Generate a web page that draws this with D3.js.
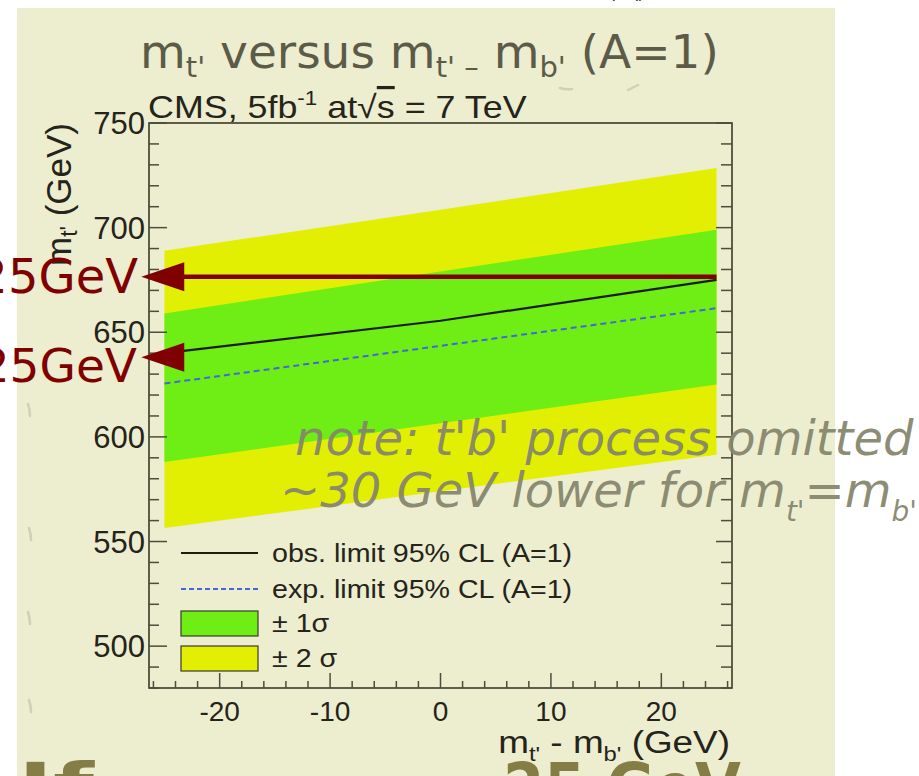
<!DOCTYPE html>
<html>
<head>
<meta charset="utf-8">
<script src="https://cdn.jsdelivr.net/npm/d3@7"></script>
<style>
  html, body { margin: 0; padding: 0; background: #ffffff; overflow: hidden; }
  svg { display: block; }
</style>
</head>
<body>
<svg id="chart" width="919" height="776"></svg>
<script>
// mass splitting m_t' - m_b' (GeV)
const massSplit = [-25, 0, 25];
// 95% CL limits on m_t' (GeV)
const obsLimit = [640, 655.5, 675];
const expLimit = [625.5, 643.5, 661.5];
// expected-limit uncertainty bands (GeV)
const sigma1Low = [588, 606.5, 625];
const sigma1High = [659, 679, 699];
const sigma2Low = [556.5, 574, 591.5];
const sigma2High = [689, 708.5, 728.5];
// axis ticks
const xTicks = [-20, -10, 0, 10, 20];
const yTicks = [500, 550, 600, 650, 700, 750];
// highlighted mass levels (GeV) with arrow tip / tail positions on the x axis
const arrowLevels = [676.5, 638];
const arrowTips = [-27.1, -27.1];
const arrowTails = [25, -24.6];
const arrowLabels = ["25GeV", "25GeV"];
// legend entries
const legendLabels = ["obs. limit 95% CL (A=1)", "exp. limit 95% CL (A=1)", "\u00b1 1\u03c3", "\u00b1 2 \u03c3"];

const svg = d3.select("#chart");
const C = {
  panel: "#ededcf", yellow: "#e2ef02", green: "#6eee14", red: "#800000",
  ink: "#24241a", tick: "#4d4d3c", title: "#5b5b48", note: "#86866d", blue: "#4466dd", big: "#857d46"
};
const rootFont = "'Liberation Sans', Arial, sans-serif";

const frame = { left: 149, top: 123, right: 732, bottom: 688 };
const x = d3.scaleLinear().domain([-26.4, 26.4]).range([frame.left, frame.right]);
const y = d3.scaleLinear().domain([480, 750]).range([frame.bottom, frame.top]);

// horizontally widened text anchored at (px, py)
function wideText(px, py, sx, anchor) {
  return svg.append("g").attr("transform", `translate(${px},${py}) scale(${sx},1)`)
    .append("text").attr("text-anchor", anchor || "start");
}

// slide background panel
svg.append("rect").attr("x", 17).attr("y", 8).attr("width", 818).attr("height", 800).attr("fill", C.panel);

// faint marks from the slide layer behind the plot
const smudge = svg.append("g").attr("fill", "none").attr("stroke", "#c9c9b2").attr("stroke-width", 2.5)
  .attr("stroke-linecap", "round").attr("opacity", 0.8);
[[28, 404], [29, 528], [28, 612], [29, 700]].forEach(([mx, my]) =>
  smudge.append("path").attr("d", `M${mx},${my} q2,6 2,12`));
smudge.append("path").attr("d", "M560,88 q6,2 12,1");
smudge.append("path").attr("d", "M628,90 q6,-3 10,-5");

// clipped caption above the slide
svg.append("text").attr("x", 612).attr("y", -2).attr("font-family", rootFont).attr("font-size", 16)
  .attr("fill", "#222").text("p,   q)");

// slide title
const title = svg.append("text").attr("x", 140).attr("y", 68)
  .attr("font-family", "'DejaVu Sans', sans-serif")
  .attr("font-size", 47).attr("fill", C.title);
title.append("tspan").text("m");
title.append("tspan").attr("font-size", 29).attr("dy", 9).text("t'");
title.append("tspan").attr("dy", -9).text(" versus m");
title.append("tspan").attr("font-size", 29).attr("dy", 9).text("t' \u2013");
title.append("tspan").attr("dy", -9).text(" m");
title.append("tspan").attr("font-size", 29).attr("dy", 9).text("b'");
title.append("tspan").attr("dy", -9).text(" (A=1)");

// uncertainty bands
const idx = massSplit.map((d, i) => i);
const band = (lo, hi) => d3.area()
  .x(i => x(massSplit[i]))
  .y0(i => y(lo[i]))
  .y1(i => y(hi[i]));
svg.append("path").datum(idx).attr("d", band(sigma2Low, sigma2High)).attr("fill", C.yellow);
svg.append("path").datum(idx).attr("d", band(sigma1Low, sigma1High)).attr("fill", C.green);

// limit curves
const curve = vals => d3.line().x(i => x(massSplit[i])).y(i => y(vals[i]));
svg.append("path").datum(idx).attr("d", curve(expLimit)).attr("fill", "none")
  .attr("stroke", C.blue).attr("stroke-width", 2).attr("stroke-dasharray", "6,4");
svg.append("path").datum(idx).attr("d", curve(obsLimit)).attr("fill", "none")
  .attr("stroke", "#1c1c10").attr("stroke-width", 2.2);

// frame
svg.append("rect").attr("x", frame.left).attr("y", frame.top)
  .attr("width", frame.right - frame.left).attr("height", frame.bottom - frame.top)
  .attr("fill", "none").attr("stroke", "#3a3a2a").attr("stroke-width", 1.6);

// y ticks (left and right, inward)
d3.range(480, 751, 10).forEach(v => {
  const major = v % 50 === 0;
  svg.append("line").attr("x1", frame.left).attr("x2", frame.left + (major ? 18 : 10))
    .attr("y1", y(v)).attr("y2", y(v)).attr("stroke", C.tick).attr("stroke-width", 1.5);
  svg.append("line").attr("x1", frame.right).attr("x2", frame.right - (major ? 16 : 11))
    .attr("y1", y(v)).attr("y2", y(v)).attr("stroke", C.tick).attr("stroke-width", 1.5);
});
// x ticks (bottom, inward)
d3.range(-26, 27, 2).forEach(v => {
  const major = v % 10 === 0;
  svg.append("line").attr("x1", x(v)).attr("x2", x(v))
    .attr("y1", frame.bottom).attr("y2", frame.bottom - (major ? 15 : 7))
    .attr("stroke", C.tick).attr("stroke-width", 1.5);
});

// tick labels
svg.append("g").selectAll("text").data(yTicks).join("text")
  .attr("x", 145).attr("y", d => y(d) + 11).attr("text-anchor", "end")
  .attr("font-family", rootFont).attr("font-size", 31).attr("fill", C.ink).text(d => d);
svg.append("g").selectAll("text").data(xTicks).join("text")
  .attr("x", d => x(d)).attr("y", 721).attr("text-anchor", "middle")
  .attr("font-family", rootFont).attr("font-size", 28).attr("fill", C.ink).text(d => d);

// axis titles
const xt = wideText(730, 753, 1.19, "end")
  .attr("font-family", rootFont).attr("font-size", 31).attr("fill", C.ink);
xt.append("tspan").text("m");
xt.append("tspan").attr("font-size", 20).attr("dy", 8).text("t'");
xt.append("tspan").attr("dy", -8).text(" - m");
xt.append("tspan").attr("font-size", 20).attr("dy", 8).text("b'");
xt.append("tspan").attr("dy", -8).text(" (GeV)");

const yt = svg.append("text").attr("transform", `translate(71,${frame.top}) rotate(-90)`)
  .attr("text-anchor", "end")
  .attr("font-family", rootFont).attr("font-size", 35).attr("fill", C.ink);
yt.append("tspan").text("m");
yt.append("tspan").attr("font-size", 23).attr("dy", 6).text("t'");
yt.append("tspan").attr("dy", -6).text(" (GeV)");

// experiment label
const cms = wideText(148, 118, 1.12)
  .attr("font-family", rootFont).attr("font-size", 32).attr("fill", C.ink);
cms.append("tspan").text("CMS, 5fb");
cms.append("tspan").attr("font-size", 20).attr("dy", -13).text("-1");
cms.append("tspan").attr("dy", 13).text(" at\u221A");
cms.append("tspan").style("text-decoration", "overline").text("s");
cms.append("tspan").text(" = 7 TeV");

// legend
const legendY = [553, 589, 623, 658];
const lg = svg.append("g");
lg.append("line").attr("x1", 181).attr("x2", 258).attr("y1", legendY[0]).attr("y2", legendY[0])
  .attr("stroke", "#1c1c10").attr("stroke-width", 2);
lg.append("line").attr("x1", 181).attr("x2", 258).attr("y1", legendY[1]).attr("y2", legendY[1])
  .attr("stroke", C.blue).attr("stroke-width", 2).attr("stroke-dasharray", "5,3");
lg.append("rect").attr("x", 181).attr("y", legendY[2] - 12).attr("width", 77).attr("height", 25)
  .attr("fill", C.green).attr("stroke", "#3a3a2a").attr("stroke-width", 1.2);
lg.append("rect").attr("x", 181).attr("y", legendY[3] - 12).attr("width", 77).attr("height", 25)
  .attr("fill", C.yellow).attr("stroke", "#3a3a2a").attr("stroke-width", 1.2);
legendLabels.forEach((d, i) => {
  wideText(272, legendY[i] + 9, 1.1)
    .attr("font-family", rootFont).attr("font-size", 26).attr("fill", C.ink).text(d);
});

// highlighted levels: arrows pointing at the y axis
const labelDrop = [16, 25];
const labelRight = [138, 137];
const labelSize = [48, 47];
arrowLevels.forEach((lvl, i) => {
  const yy = y(lvl), tip = x(arrowTips[i]);
  svg.append("line").attr("x1", tip + 30).attr("x2", x(arrowTails[i]))
    .attr("y1", yy).attr("y2", yy).attr("stroke", C.red).attr("stroke-width", 4.5);
  svg.append("path")
    .attr("d", `M${tip},${yy} L${tip + 43},${yy - 14.5} L${tip + 43},${yy + 14.5} Z`)
    .attr("fill", C.red);
  svg.append("text").attr("x", labelRight[i]).attr("y", yy + labelDrop[i]).attr("text-anchor", "end")
    .attr("font-family", "'DejaVu Sans', sans-serif").attr("font-size", labelSize[i])
    .attr("fill", C.red).text(arrowLabels[i]);
});

// annotation note
const noteFont = "'DejaVu Sans', sans-serif";
svg.append("text").attr("x", 295).attr("y", 455)
  .attr("font-family", noteFont).attr("font-style", "italic").attr("font-size", 48)
  .attr("fill", C.note).attr("fill-opacity", 0.95).text("note: t'b' process omitted");
const n2 = svg.append("text").attr("x", 280).attr("y", 507)
  .attr("font-family", noteFont).attr("font-style", "italic").attr("font-size", 48)
  .attr("fill", C.note).attr("fill-opacity", 0.95);
n2.append("tspan").text("~30 GeV lower for m");
n2.append("tspan").attr("font-size", 28).attr("dy", 14).text("t'");
n2.append("tspan").attr("dy", -14).text("=m");
n2.append("tspan").attr("font-size", 28).attr("dy", 14).text("b'");

// slide text running off the bottom edge
const bigFont = "'DejaVu Sans', sans-serif";
svg.append("text").attr("x", 18).attr("y", 810).attr("textLength", 76).attr("lengthAdjust", "spacingAndGlyphs")
  .attr("font-family", bigFont).attr("font-weight", "bold").attr("font-size", 66)
  .attr("fill", C.big).text("If");
svg.append("text").attr("x", 503).attr("y", 810).attr("textLength", 238).attr("lengthAdjust", "spacingAndGlyphs")
  .attr("font-family", bigFont).attr("font-weight", "bold").attr("font-size", 66)
  .attr("fill", C.big).text("25 GeV");
</script>
</body>
</html>
